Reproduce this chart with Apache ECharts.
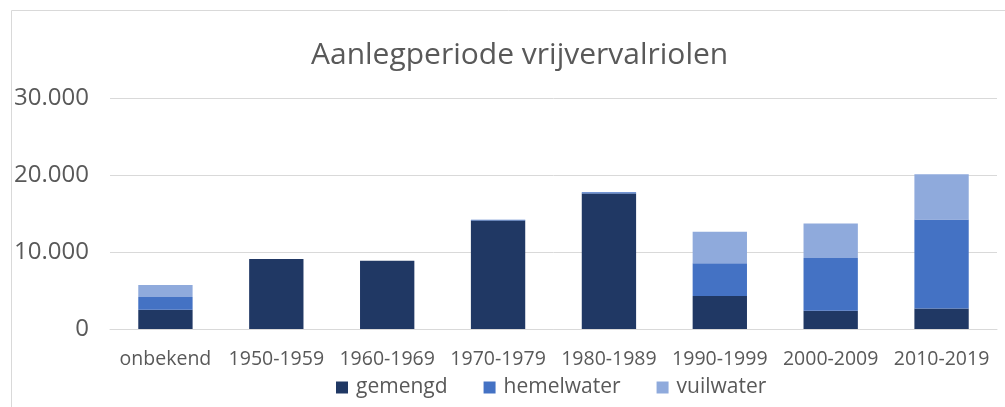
<!DOCTYPE html>
<html>
<head>
<meta charset="utf-8">
<script src="https://cdn.jsdelivr.net/npm/echarts@6/dist/echarts.min.js"></script>
<style>
  html,body{margin:0;padding:0;background:#fff;}
  #chart{width:1005px;height:407px;}
</style>
</head>
<body>
<div id="chart"></div>
<script>
// data
var categories = ['onbekend','1950-1959','1960-1969','1970-1979','1980-1989','1990-1999','2000-2009','2010-2019']
var gemengd    = [2500, 9100, 8850, 14100, 17600, 4300, 2370, 2670]
var hemelwater = [1640,    0,    0,   100,   150, 4240, 6850, 11560]
var vuilwater  = [1590,    0,    0,     0,     0, 4090, 4480, 5870]
var yTicks = [0, 10000, 20000, 30000]

var chart = echarts.init(document.getElementById('chart'))
var font = 'Open Sans'

function fmt(v){
  if(v==0) return '0'
  return String(v).replace(/\B(?=(\d{3})+(?!\d))/g,'.')
}

function barSeries(name, data, color){
  return {
    name: name,
    type: 'bar',
    stack: 'totaal',
    barWidth: '49%',
    itemStyle: { color: color },
    data: data
  }
}

var option = {
  animation: false,
  textStyle: { fontFamily: font },
  graphic: [{
    type: 'rect',
    shape: { x: 11.5, y: 10.5, width: 1100, height: 500 },
    style: { fill: 'none', stroke: '#d9d9d9', lineWidth: 1 },
    silent: true
  }],
  title: {
    text: 'Aanlegperiode vrijvervalriolen',
    left: 306,
    top: 35,
    textStyle: { fontFamily: font, fontSize: 30, fontWeight: 'normal', color: '#595959' }
  },
  grid: { left: 110, right: 8, top: 98, bottom: 78 },
  legend: {
    bottom: 4,
    left: 331,
    itemWidth: 12,
    itemHeight: 12,
    itemGap: 36,
    icon: 'rect',
    textStyle: { fontFamily: font, fontSize: 21, color: '#595959', padding: [0,0,0,3] },
    data: ['gemengd','hemelwater','vuilwater']
  },
  xAxis: {
    type: 'category',
    data: categories,
    axisLine: { lineStyle: { color: '#d9d9d9' } },
    axisTick: { show: false },
    axisLabel: { fontFamily: font, fontSize: 19.5, color: '#595959', margin: 20, interval: 0 }
  },
  yAxis: {
    type: 'value',
    min: yTicks[0],
    max: yTicks[yTicks.length-1],
    interval: yTicks[1]-yTicks[0],
    axisLine: { show: false },
    axisTick: { show: false },
    splitLine: { lineStyle: { color: '#d9d9d9' } },
    axisLabel: { fontFamily: font, fontSize: 24, color: '#595959', margin: 21, formatter: fmt }
  },
  series: [
    barSeries('gemengd', gemengd, '#203864'),
    barSeries('hemelwater', hemelwater, '#4472c4'),
    barSeries('vuilwater', vuilwater, '#8faadc')
  ]
}
chart.setOption(option)
</script>
</body>
</html>
